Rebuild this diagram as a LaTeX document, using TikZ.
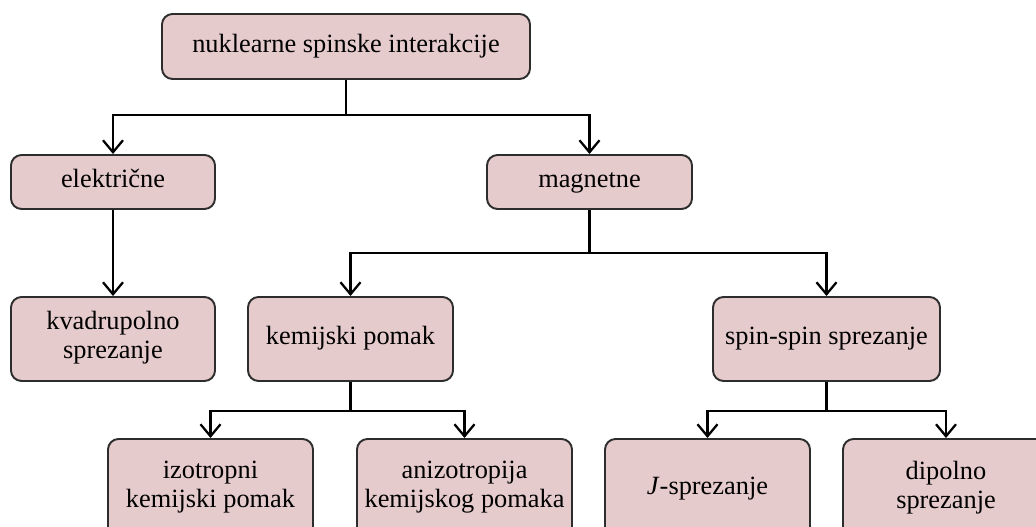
\documentclass[tikz,border=0pt]{standalone}
\usepackage{fontspec}
\setmainfont{Liberation Serif}
\usetikzlibrary{arrows.meta}
\definecolor{rose}{RGB}{230,203,204}
\definecolor{edge}{RGB}{45,45,45}

\begin{document}
\begin{tikzpicture}[
    box/.style={draw=edge,fill=rose,line width=1.1pt,rounded corners=6pt,
      align=center,font=\fontsize{15}{16.5}\selectfont,inner sep=0pt,
      execute at begin node=\strut,execute at end node=\strut},
    conn/.style={line width=1.4pt,-{Straight Barb[length=2.4mm,width=4mm,line width=1.3pt]}},
    stem/.style={line width=1.4pt}
  ]
    \useasboundingbox (0,0) rectangle (20.72,10.54);
    % top level
    \node[box,minimum width=73.6mm,minimum height=13mm] (nsi) at (6.92,9.61) {nuklearne spinske interakcije};
    % second level
    \node[box,minimum width=40.8mm,minimum height=10.8mm] (el) at (2.26,6.9) {električne};
    \node[box,minimum width=41mm,minimum height=10.8mm] (mag) at (11.79,6.9) {magnetne};
    % third level
    \node[box,minimum width=40.8mm,minimum height=16.8mm] (kvad) at (2.26,3.76) {kvadrupolno\\sprezanje};
    \node[box,minimum width=41mm,minimum height=16.8mm] (kem) at (7.01,3.76) {kemijski pomak};
    \node[box,minimum width=45.4mm,minimum height=16.8mm] (ss) at (16.53,3.76) {spin-spin sprezanje};
    % bottom level
    \foreach \n/\x/\w/\t in {izo/4.21/41/izotropni\\kemijski pomak,
      aniz/9.29/43/anizotropija\\kemijskog pomaka,
      jsp/14.15/41/\textit{J}-sprezanje,
      dip/18.92/41.2/dipolno\\sprezanje}
      \node[box,minimum width=\w mm,minimum height=20mm] (\n) at (\x,0.76) {\t};
    % connectors
    \draw[stem] (nsi.south) -- ++(0,-0.7) coordinate (j1);
    \draw[conn] (j1) -| (el.north);
    \draw[conn] (j1) -| (mag.north);
    \draw[conn] (el.south) -- (kvad.north);
    \draw[stem] (mag.south) -- ++(0,-0.86) coordinate (j2);
    \draw[conn] (j2) -| (kem.north);
    \draw[conn] (j2) -| (ss.north);
    \draw[stem] (kem.south) -- ++(0,-0.58) coordinate (j3);
    \draw[conn] (j3) -| (izo.north);
    \draw[conn] (j3) -| (aniz.north);
    \draw[stem] (ss.south) -- ++(0,-0.58) coordinate (j4);
    \draw[conn] (j4) -| (jsp.north);
    \draw[conn] (j4) -| (dip.north);
\end{tikzpicture}
\end{document}
